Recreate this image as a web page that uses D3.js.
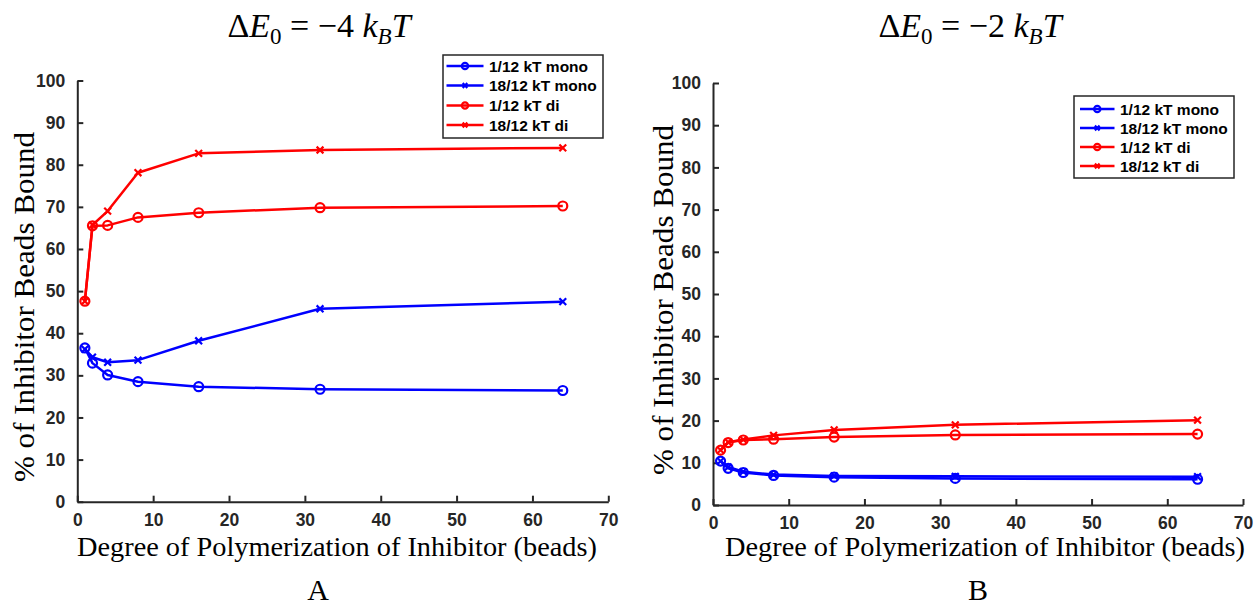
<!DOCTYPE html>
<html>
<head>
<meta charset="utf-8">
<script src="https://cdn.jsdelivr.net/npm/d3@7"></script>
<style>
  html, body { margin: 0; padding: 0; background: #fff; }
  svg { display: block; }
</style>
</head>
<body>
<svg id="chart" width="1255" height="607"></svg>
<script>
// ---------- data ----------
const xValues = [1, 2, 4, 8, 16, 32, 64];
const seriesNames = ["1/12 kT mono", "18/12 kT mono", "1/12 kT di", "18/12 kT di"];
const seriesColors = ["#0000ff", "#0000ff", "#ff0000", "#ff0000"];
const seriesMarkers = ["circle", "x", "circle", "x"];

// Panel A (ΔE0 = -4 kBT)
const A_mono_1_12 = [36.5, 32.9, 30.1, 28.5, 27.3, 26.7, 26.4];
const A_mono_18_12 = [36.2, 34.3, 33.1, 33.6, 38.2, 45.8, 47.5];
const A_di_1_12 = [47.6, 65.5, 65.6, 67.5, 68.6, 69.8, 70.2];
const A_di_18_12 = [47.6, 65.7, 69.0, 78.1, 82.7, 83.5, 84.0];

// Panel B (ΔE0 = -2 kBT)
const B_mono_1_12 = [10.4, 8.7, 7.7, 7.0, 6.6, 6.3, 6.1];
const B_mono_18_12 = [10.4, 9.0, 7.9, 7.2, 6.9, 6.8, 6.7];
const B_di_1_12 = [13.0, 14.8, 15.4, 15.6, 16.1, 16.6, 16.8];
const B_di_18_12 = [13.0, 14.9, 15.5, 16.5, 17.8, 19.0, 20.1];

const xTicks = [0, 10, 20, 30, 40, 50, 60, 70];
const yTicks = [0, 10, 20, 30, 40, 50, 60, 70, 80, 90, 100];

const xLabel = "Degree of Polymerization of Inhibitor (beads)";
const yLabel = "% of Inhibitor Beads Bound";

// ---------- drawing ----------
const svg = d3.select("#chart");
const AXIS = "#262626";
const SERIF = "'Liberation Serif', 'DejaVu Serif', serif";
const SANS = "'Liberation Sans', Arial, Helvetica, sans-serif";

const panels = [
  {
    series: [A_mono_1_12, A_mono_18_12, A_di_1_12, A_di_18_12],
    x0: 77.3, x1: 608.3, y0: 501.7, y1: 80.5,
    energy: "4", titleX: 319, letter: "A", letterX: 318,
    xLabelX: 337, yLabelX: 34, yLabelY: 307,
    legend: { x: 443, y: 55, w: 160, h: 83, rowY: [66, 85.5, 105.5, 125], lineX0: 446.5, lineX1: 483.5, textX: 489 }
  },
  {
    series: [B_mono_1_12, B_mono_18_12, B_di_1_12, B_di_18_12],
    x0: 713, x1: 1243, y0: 505, y1: 83,
    energy: "2", titleX: 970, letter: "B", letterX: 978,
    xLabelX: 985, yLabelX: 673, yLabelY: 300,
    legend: { x: 1074, y: 96, w: 160, h: 82, rowY: [109, 128, 147, 166], lineX0: 1080, lineX1: 1114.5, textX: 1120 }
  }
];

panels.forEach(p => {
  const x = d3.scaleLinear().domain([0, 70]).range([p.x0, p.x1]);
  const y = d3.scaleLinear().domain([0, 100]).range([p.y0, p.y1]);
  const g = svg.append("g");

  // axes (ticks inward)
  const xAxis = d3.axisBottom(x).tickValues(xTicks).tickSizeInner(-6).tickSizeOuter(0).tickPadding(12);
  const gx = g.append("g").attr("transform", `translate(0,${p.y0})`).call(xAxis);
  const yAxis = d3.axisLeft(y).tickValues(yTicks).tickSizeInner(-6).tickSizeOuter(0).tickPadding(12);
  const gy = g.append("g").attr("transform", `translate(${p.x0},0)`).call(yAxis);
  [gx, gy].forEach(a => {
    a.select(".domain").attr("stroke", AXIS).attr("stroke-width", 2);
    a.selectAll(".tick line").attr("stroke", AXIS).attr("stroke-width", 2);
    a.selectAll(".tick text").attr("fill", AXIS).attr("font-family", SANS)
      .attr("font-weight", "bold").attr("font-size", 17.5);
  });
  gx.selectAll(".tick text").attr("dy", "0.71em");

  // lines and markers
  p.series.forEach((vals, i) => {
    const pts = xValues.map((xv, k) => [xv, vals[k]]);
    const line = d3.line().x(d => x(d[0])).y(d => y(d[1]));
    g.append("path").datum(pts).attr("d", line).attr("fill", "none")
      .attr("stroke", seriesColors[i]).attr("stroke-width", 2.5).attr("stroke-linejoin", "round");
    drawMarkers(g, pts.map(d => [x(d[0]), y(d[1])]), seriesMarkers[i], seriesColors[i]);
  });

  // title
  const t = g.append("text").attr("x", p.titleX).attr("y", 37).attr("text-anchor", "middle")
    .attr("font-family", SERIF).attr("font-size", 34).attr("fill", "#000");
  t.append("tspan").text("Δ");
  t.append("tspan").attr("font-style", "italic").text("E");
  t.append("tspan").attr("font-size", 23).attr("dy", 7).text("0");
  t.append("tspan").attr("dy", -7).text(" = −" + p.energy + " ");
  t.append("tspan").attr("font-style", "italic").text("k");
  t.append("tspan").attr("font-style", "italic").attr("font-size", 23).attr("dy", 7).text("B");
  t.append("tspan").attr("font-style", "italic").attr("dy", -7).text("T");

  // axis labels
  g.append("text").attr("x", p.xLabelX).attr("y", 556).attr("text-anchor", "middle")
    .attr("font-family", SERIF).attr("font-size", 27.5).attr("fill", "#000")
    .attr("textLength", 520).attr("lengthAdjust", "spacingAndGlyphs").text(xLabel);
  g.append("text").attr("transform", `translate(${p.yLabelX},${p.yLabelY}) rotate(-90)`)
    .attr("text-anchor", "middle").attr("font-family", SERIF).attr("font-size", 30)
    .attr("textLength", 350).attr("lengthAdjust", "spacingAndGlyphs")
    .attr("fill", "#000").text(yLabel);

  // panel letter
  g.append("text").attr("x", p.letterX).attr("y", 600).attr("text-anchor", "middle")
    .attr("font-family", SERIF).attr("font-size", 30).attr("fill", "#000").text(p.letter);

  // legend
  const L = p.legend;
  const lg = g.append("g");
  lg.append("rect").attr("x", L.x).attr("y", L.y).attr("width", L.w).attr("height", L.h)
    .attr("fill", "#fff").attr("stroke", AXIS).attr("stroke-width", 1.5);
  seriesNames.forEach((name, i) => {
    const ry = L.rowY[i];
    lg.append("line").attr("x1", L.lineX0).attr("x2", L.lineX1).attr("y1", ry).attr("y2", ry)
      .attr("stroke", seriesColors[i]).attr("stroke-width", 2.5);
    drawMarkers(lg, [[(L.lineX0 + L.lineX1) / 2, ry]], seriesMarkers[i], seriesColors[i], 0.7);
    lg.append("text").attr("x", L.textX).attr("y", ry).attr("dy", "0.36em")
      .attr("font-family", SANS).attr("font-weight", "bold").attr("font-size", 15.5)
      .attr("fill", "#000").text(name);
  });
});

function drawMarkers(g, pts, kind, color, scale = 1) {
  if (kind === "circle") {
    g.selectAll(null).data(pts).enter().append("circle")
      .attr("cx", d => d[0]).attr("cy", d => d[1]).attr("r", 4.5 * scale)
      .attr("fill", "none").attr("stroke", color).attr("stroke-width", 2.2);
  } else {
    const s = 3.4 * scale;
    g.selectAll(null).data(pts).enter().append("path")
      .attr("d", d => `M${d[0] - s},${d[1] - s}L${d[0] + s},${d[1] + s}M${d[0] - s},${d[1] + s}L${d[0] + s},${d[1] - s}`)
      .attr("stroke", color).attr("stroke-width", 2.2).attr("fill", "none");
  }
}
</script>
</body>
</html>
